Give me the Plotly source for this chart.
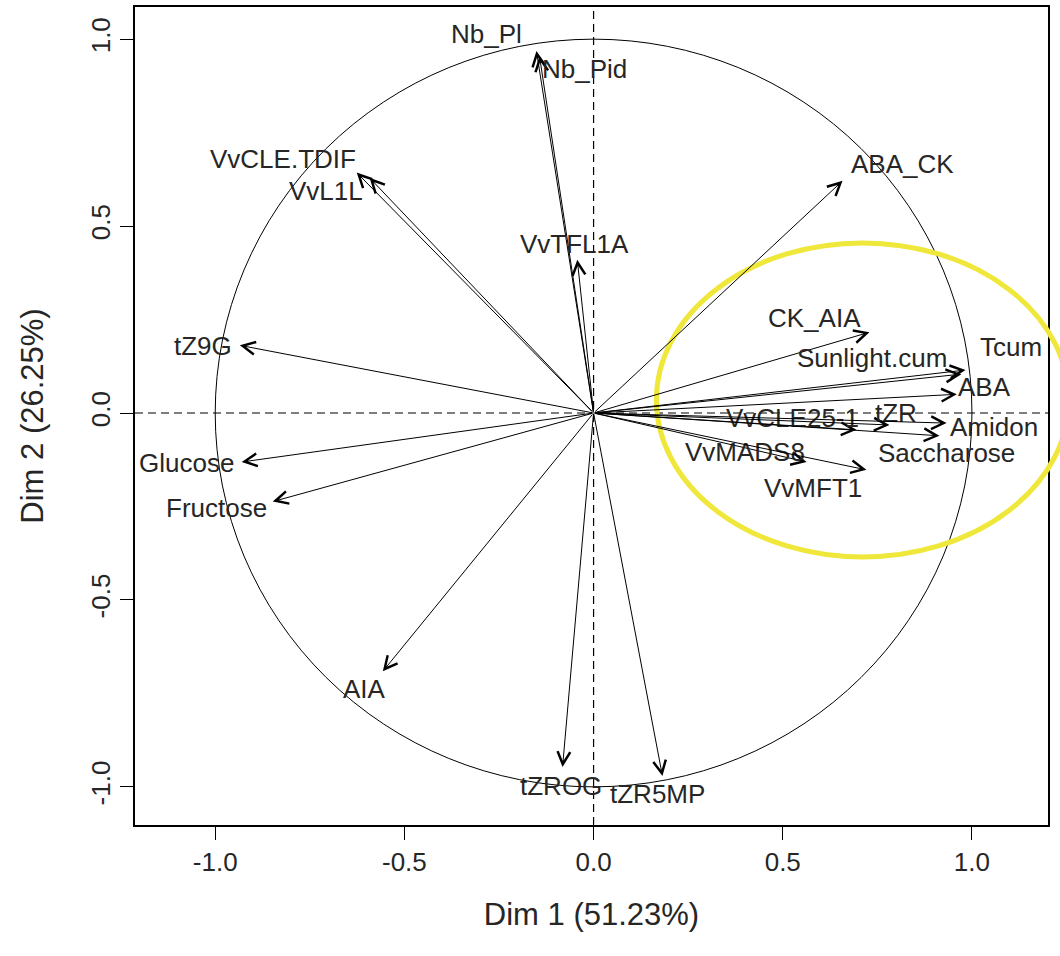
import plotly.graph_objects as go

# ---- data: variable coordinates on Dim 1 / Dim 2 ----
variables = ["Nb_Pl", "Nb_Pid", "VvCLE.TDIF", "VvL1L", "VvTFL1A", "ABA_CK", "CK_AIA",
             "Sunlight.cum", "Tcum", "ABA", "VvCLE25-1", "tZR", "Amidon", "Saccharose",
             "VvMADS8", "VvMFT1", "tZ9G", "Glucose", "Fructose", "AIA", "tZROG", "tZR5MP"]
dim1 = [-0.151, -0.143, -0.626, -0.592, -0.043, 0.658, 0.729,
        0.972, 0.983, 0.960, 0.695, 0.782, 0.933, 0.914,
        0.563, 0.721, -0.935, -0.930, -0.848, -0.557, -0.082, 0.182]
dim2 = [0.968, 0.955, 0.643, 0.629, 0.410, 0.621, 0.216,
        0.104, 0.115, 0.050, -0.045, -0.032, -0.027, -0.061,
        -0.131, -0.152, 0.181, -0.131, -0.237, -0.691, -0.947, -0.971]
# label anchor positions (repelled labels, as in the original)
label_x = [-0.283, -0.024, -0.822, -0.708, -0.050, 0.816, 0.584,
           0.737, 1.104, 1.033, 0.526, 0.800, 1.059, 0.933,
           0.399, 0.579, -1.033, -1.075, -0.996, -0.605, -0.085, 0.169]
label_y = [1.013, 0.920, 0.680, 0.595, 0.453, 0.667, 0.253,
           0.147, 0.176, 0.069, -0.013, 0.0, -0.037, -0.107,
           -0.104, -0.200, 0.179, -0.133, -0.253, -0.739, -0.997, -1.019]
tick_vals = [-1.0, -0.5, 0.0, 0.5, 1.0]
tick_text = ["-1.0", "-0.5", "0.0", "0.5", "1.0"]
x_title = "Dim 1 (51.23%)"
y_title = "Dim 2 (26.25%)"
# highlighted group (hand-drawn ellipse): centre and radii in Dim units
hl_center = (0.711, 0.035)
hl_radius = (0.545, 0.420)

XR = [-1.212, 1.201]
YR = [-1.102, 1.086]
FONT = "Liberation Sans, Arial, sans-serif"
FS = 26
TXT = "#262626"

fig = go.Figure()
fig.add_trace(go.Scatter(x=[None], y=[None], showlegend=False, hoverinfo="skip"))

shapes = []
# unit circle
shapes.append(dict(type="circle", xref="x", yref="y", x0=-1, x1=1, y0=-1, y1=1,
                   line=dict(color="black", width=1)))
# dashed axes through origin
shapes.append(dict(type="line", xref="x", yref="y", x0=XR[0], x1=XR[1], y0=0, y1=0,
                   line=dict(color="black", width=1.2, dash="8px,5px")))
shapes.append(dict(type="line", xref="x", yref="y", x0=0, x1=0, y0=YR[0], y1=YR[1],
                   line=dict(color="black", width=1.2, dash="8px,5px")))
# yellow highlight ellipse (paper coords so it can overflow the frame)
def px(v):
    return (v - XR[0]) / (XR[1] - XR[0])
def py(v):
    return (v - YR[0]) / (YR[1] - YR[0])
cx, cy = hl_center
rx, ry = hl_radius
shapes.append(dict(type="circle", xref="paper", yref="paper",
                   x0=px(cx - rx), x1=px(cx + rx), y0=py(cy - ry), y1=py(cy + ry),
                   line=dict(color="#EFE73A", width=5)))

annotations = []
for name, x, y, lx, ly in zip(variables, dim1, dim2, label_x, label_y):
    annotations.append(dict(x=x, y=y, xref="x", yref="y", ax=0, ay=0, axref="x", ayref="y",
                            text="", showarrow=True, arrowhead=5, arrowsize=2.5,
                            arrowwidth=1, arrowcolor="black"))
    annotations.append(dict(x=lx, y=ly, xref="x", yref="y", text=name, showarrow=False,
                            font=dict(family=FONT, size=FS, color=TXT)))

fig.update_layout(
    width=1060, height=956,
    margin=dict(l=135, r=12, t=7, b=131),
    paper_bgcolor="white", plot_bgcolor="white",
    shapes=shapes, annotations=annotations,
    font=dict(family=FONT, size=FS, color=TXT),
    showlegend=False,
    xaxis=dict(range=XR, tickvals=tick_vals, ticktext=tick_text, showgrid=False, zeroline=False,
               showline=True, mirror=True, linecolor="black", linewidth=1.5,
               ticks="outside", ticklen=13, tickcolor="black", automargin=False,
               title=dict(text=x_title, standoff=27), tickfont=dict(size=FS)),
    yaxis=dict(range=YR, tickvals=tick_vals, ticktext=tick_text, showgrid=False, zeroline=False,
               showline=True, mirror=True, linecolor="black", linewidth=1.5,
               ticks="outside", ticklen=13, tickcolor="black", tickangle=-90, automargin=False,
               title=dict(text=y_title, standoff=33), tickfont=dict(size=FS)),
)

fig.write_html("out.html", config={"displayModeBar": False},
               post_script="document.body.style.margin='0';document.body.style.overflow='hidden';")
